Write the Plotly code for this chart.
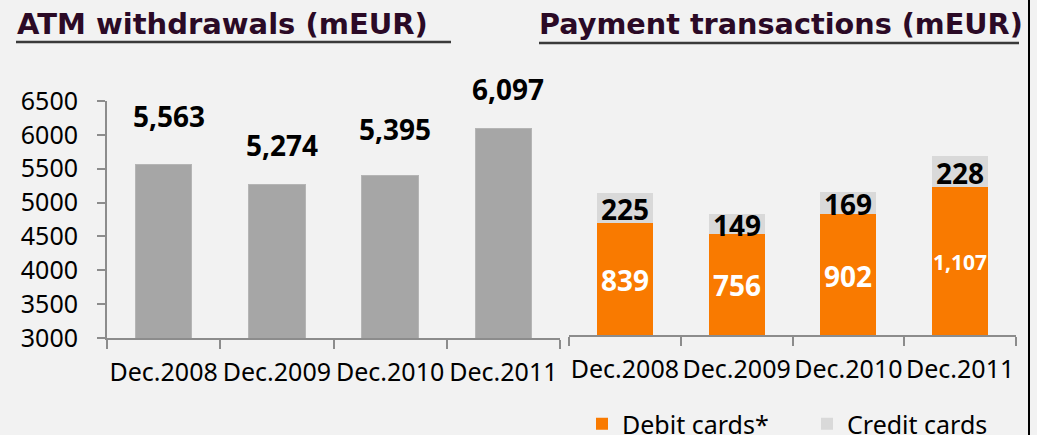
import plotly.graph_objects as go

# ---------------- data ----------------
periods = ["Dec.2008", "Dec.2009", "Dec.2010", "Dec.2011"]
atm_withdrawals = [5563, 5274, 5395, 6097]
debit_cards = [839, 756, 902, 1107]
credit_cards = [225, 149, 169, 228]
atm_labels = ["5,563", "5,274", "5,395", "6,097"]
debit_labels = ["839", "756", "902", "1,107"]
credit_labels = ["225", "149", "169", "228"]
left_title = "ATM withdrawals (mEUR)"
right_title = "Payment transactions (mEUR)"

# ---------------- style ----------------
W, H = 1037, 435
BG = "#f2f2f2"
AXIS = "#8c8c8c"
GRAY_BAR = "#a6a6a6"
ORANGE = "#f97a00"
LIGHT = "#d9d9d9"
TITLE_COLOR = "#2b0a26"
REG = "Noto Sans, Open Sans, sans-serif"
BOLD = "Noto Sans, Open Sans, sans-serif"
TITLE_FONT = "DejaVu Sans, Verdana, sans-serif"

atm_label_gap = [48, 39, 47, 39]   # px above bar top (label centre)
debit_label_size = [28, 28, 28, 21]


def px_x(p):
    return p / W


def px_y(p):
    return (H - p) / H


fig = go.Figure()

fig.add_trace(go.Bar(
    x=periods, y=atm_withdrawals, xaxis="x", yaxis="y",
    marker=dict(color=GRAY_BAR, line=dict(color="#b5b5b5", width=1)),
    showlegend=False, hoverinfo="x+y",
))
fig.add_trace(go.Bar(
    x=periods, y=debit_cards, xaxis="x2", yaxis="y2", name="Debit cards*",
    marker=dict(color=ORANGE, line=dict(width=0)),
))
fig.add_trace(go.Bar(
    x=periods, y=credit_cards, xaxis="x2", yaxis="y2", name="Credit cards",
    marker=dict(color=LIGHT, line=dict(width=0)),
))

annotations = []
for p, v, t, g in zip(periods, atm_withdrawals, atm_labels, atm_label_gap):
    annotations.append(dict(
        x=p, y=v, xref="x", yref="y", text=t, showarrow=False,
        yanchor="middle", yshift=g, xshift=5,
        font=dict(family=BOLD, size=28, color="#000000", weight="bold"),
    ))
for p, d, c, dt, ct, s in zip(periods, debit_cards, credit_cards,
                              debit_labels, credit_labels, debit_label_size):
    annotations.append(dict(
        x=p, y=d / 2, xref="x2", yref="y2", text=dt, showarrow=False,
        yanchor="middle", yshift=-1,
        font=dict(family=BOLD, size=s, color="#ffffff", weight="bold"),
    ))
    annotations.append(dict(
        x=p, y=d + c / 2, xref="x2", yref="y2", text=ct, showarrow=False,
        yanchor="middle", yshift=-1,
        font=dict(family=BOLD, size=28, color="#000000", weight="bold"),
    ))

annotations.append(dict(
    x=px_x(15), y=px_y(24), xref="paper", yref="paper", text=left_title,
    showarrow=False, xanchor="left", yanchor="middle",
    font=dict(family=TITLE_FONT, size=29, color=TITLE_COLOR, weight="bold"),
))
annotations.append(dict(
    x=px_x(537), y=px_y(24), xref="paper", yref="paper", text=right_title,
    showarrow=False, xanchor="left", yanchor="middle",
    font=dict(family=TITLE_FONT, size=28.7, color=TITLE_COLOR, weight="bold"),
))

shapes = [
    dict(type="line", xref="paper", yref="paper", x0=px_x(16), x1=px_x(451),
         y0=px_y(42), y1=px_y(42), line=dict(color="#3a3a3a", width=2.5)),
    dict(type="line", xref="paper", yref="paper", x0=px_x(539), x1=px_x(1019),
         y0=px_y(43), y1=px_y(43), line=dict(color="#3a3a3a", width=2.5)),
    dict(type="line", xref="paper", yref="paper", x0=px_x(1029), x1=px_x(1029),
         y0=0, y1=1, line=dict(color="#000000", width=2)),
]

common_x = dict(
    type="category", tickson="boundaries", ticks="outside", ticklen=9,
    tickcolor=AXIS, tickwidth=2, showline=True, linecolor=AXIS, linewidth=2,
    showgrid=False, zeroline=False, tickangle=0, fixedrange=True,
    tickfont=dict(family=REG, size=25, color="#000000"), ticklabelstandoff=11,
    automargin=False,
)

fig.update_layout(
    width=W, height=H, autosize=False,
    margin=dict(l=0, r=0, t=0, b=0, pad=0, autoexpand=False),
    paper_bgcolor=BG, plot_bgcolor=BG,
    barmode="stack", bargap=0.5,
    xaxis=dict(domain=[px_x(107), px_x(560)], anchor="y", **common_x),
    yaxis=dict(domain=[px_y(338), px_y(101)], range=[3000, 6500], dtick=500,
               ticks="outside", ticklen=8, tickcolor=AXIS, tickwidth=2,
               showline=True, linecolor=AXIS, linewidth=2, showgrid=False,
               zeroline=False, fixedrange=True, ticklabelstandoff=14,
               tickfont=dict(family=REG, size=25, color="#000000"),
               anchor="x", automargin=False),
    xaxis2=dict(domain=[px_x(569), px_x(1016)], anchor="y2", **common_x),
    yaxis2=dict(domain=[px_y(335), px_y(101)], range=[0, 1750], visible=False,
                anchor="x2", fixedrange=True),
    legend=dict(orientation="h", x=px_x(582), y=px_y(424), xanchor="left",
                yanchor="middle", font=dict(family=REG, size=25, color="#000000"),
                bgcolor="rgba(0,0,0,0)", entrywidth=180, entrywidthmode="pixels",
                traceorder="normal"),
    annotations=annotations,
    shapes=shapes,
)

fig.write_html(
    "out.html",
    config={"displayModeBar": False},
    post_script="document.body.style.margin='0';document.body.style.background='#f2f2f2';",
)
